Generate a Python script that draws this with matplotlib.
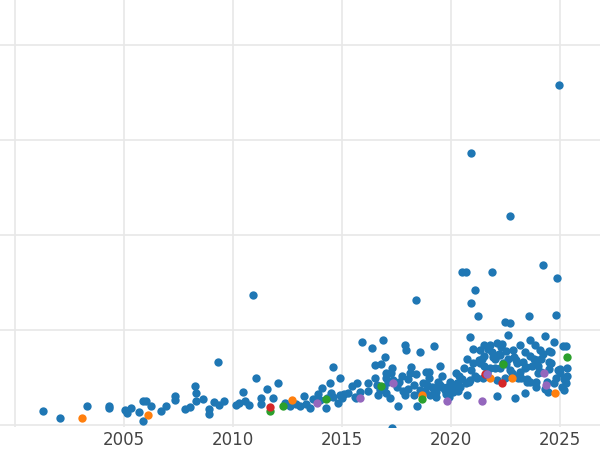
import matplotlib
matplotlib.use("Agg")
import matplotlib.pyplot as plt

blue_x = [2001.28,2002.06,2003.30,2004.31,2004.31,2005.05,2005.14,2005.32,2005.69,2005.87,2006.01,2006.24,2005.87,
 2006.70,2006.93,2007.34,2007.34,2007.80,2008.03,2008.26,2008.30,2008.30,2008.62,2008.90,2008.90,2009.13,2009.31,2009.36,2009.59,
 2010.14,2010.28,2010.46,2010.55,2010.73,2010.92,2011.06,2011.28,2011.28,2011.56,2011.83,2012.06,2012.39,2012.61,2012.89,2013.26,
 2013.35,2013.53,2013.67,2013.90,2014.08,2014.27,2014.31,2014.45,2014.50,2014.59,2014.82,2014.91,2015.09,2015.28,2015.46,2015.64,
 2015.69,2015.92,2016.19,2016.38,2016.51,2016.65,2016.79,2016.88,2016.97,2017.02,2017.11,2017.25,2017.34,2017.57,2017.75,2017.89,
 2017.94,2018.03,2018.17,2018.30,2018.39,2018.44,2018.58,2018.72,2018.85,2018.99,2019.13,2019.22,2019.31,2019.50,2019.59,2019.77,
 2019.95,2020.09,2020.28,2020.37,2020.50,2020.69,2020.73,2020.73,2020.87,2020.92,2020.92,2021.10,2021.24,2021.33,2021.51,2021.65,
 2021.88,2021.88,2022.02,2022.11,2022.25,2022.34,2022.48,2022.61,2022.71,2022.71,2022.84,2022.94,2022.98,2023.17,2023.39,2023.44,
 2023.58,2023.62,2023.85,2023.94,2024.13,2024.22,2024.31,2024.50,2024.59,2024.72,2024.82,2024.86,2024.95,2025.00,2025.14,2025.28,
 2025.32,2025.28,2025.18,2025.23,2024.45,2023.90,2023.39,2023.07,2022.48,2022.11,2021.47,2020.87,2020.32,2019.72,2019.04,2018.58,
 2017.89,2017.20,2016.74,2015.83,2014.91,2013.99,2013.07,2017.29,2023.62,2024.08,2023.17,2022.25,2021.79,2021.33,
 2016.5,2016.9,2017.3,2017.6,2018.1,2018.6,2019.0,2019.4,2019.8,2020.2,2020.6,2021.0,2021.4,2021.8,2022.2,2022.6,2023.0,2023.4,
 2023.8,2024.2,2024.6,2025.0,2020.0,2020.4,2020.8,2021.2,2021.6,2022.0,2022.4,2022.8,2023.2,2023.6,2024.0,2024.4,2024.8,2025.2,
 2019.6,2019.2,2018.8,2018.3,2017.8,2017.0,2016.2,2015.6,2015.0,2014.6,
 2019.3,2019.7,2020.1,2020.5,2020.9,2021.3,2021.7,2022.1,2022.5,2022.9,2023.3,2023.7,2024.1,2024.5,2024.9,2025.3,
 2019.5,2019.9,2020.3,2020.7,2021.1,2021.5,2021.9,2022.3,2022.7,2023.1,2023.5,2023.9,2024.3,2024.7,2025.1,
 2021.0,2021.5,2022.0,2022.5,2023.0,2023.5,2024.0,2024.5,2018.0,2018.4,2018.9,2017.5,2017.0,2016.6]
blue_y = [0.15,0.07,0.20,0.18,0.20,0.16,0.13,0.18,0.14,0.25,0.25,0.20,0.04,
 0.15,0.20,0.26,0.31,0.17,0.19,0.41,0.34,0.25,0.27,0.17,0.12,0.24,0.66,0.21,0.25,
 0.21,0.23,0.35,0.25,0.21,1.37,0.49,0.29,0.22,0.38,0.28,0.44,0.23,0.20,0.22,0.31,
 0.22,0.18,0.27,0.33,0.39,0.18,0.28,0.44,0.34,0.61,0.23,0.49,0.33,0.34,0.41,0.28,
 0.44,0.87,0.44,0.81,0.63,0.32,0.64,0.89,0.72,0.55,0.45,0.55,0.47,0.20,0.52,0.84,
 0.79,0.38,0.61,0.32,1.32,0.20,0.77,0.44,0.56,0.56,0.40,0.83,0.35,0.62,0.52,0.33,
 0.45,0.35,0.44,0.52,1.61,1.61,0.32,0.69,0.93,1.28,2.86,1.42,1.15,0.65,0.73,0.55,
 0.77,1.61,0.71,0.31,0.60,0.85,1.08,0.95,1.07,2.20,0.79,0.29,0.68,0.56,0.77,0.61,
 1.15,0.73,0.84,0.68,0.56,1.68,0.94,0.59,0.77,0.87,1.16,1.55,3.58,0.59,0.83,0.83,
 0.60,0.44,0.37,0.47,0.35,0.45,0.34,0.49,0.49,0.47,0.49,0.47,0.42,0.37,0.32,0.37,
 0.32,0.29,0.37,0.35,0.32,0.26,0.20,-0.03,0.89,0.79,0.84,0.74,0.84,0.79,
 0.50,0.40,0.60,0.45,0.55,0.35,0.50,0.45,0.40,0.55,0.60,0.65,0.70,0.60,0.75,0.70,0.65,0.60,
 0.70,0.75,0.65,0.55,0.35,0.40,0.45,0.50,0.55,0.60,0.65,0.55,0.50,0.45,0.55,0.45,0.50,0.48,
 0.40,0.38,0.36,0.42,0.36,0.34,0.36,0.30,0.28,0.30,
 0.30,0.38,0.40,0.48,0.58,0.68,0.80,0.86,0.78,0.72,0.66,0.62,0.70,0.66,0.58,0.52,
 0.42,0.30,0.36,0.44,0.52,0.62,0.72,0.82,0.58,0.52,0.48,0.40,0.38,0.44,0.40,
 0.80,0.84,0.70,0.64,0.52,0.45,0.62,0.78,0.48,0.54,0.42,0.40,0.50,0.42]

orange_x = [2003.07,2006.10,2012.71,2018.67,2021.79,2022.80,2024.77]
orange_y = [0.07,0.11,0.26,0.32,0.49,0.49,0.34]
green_x = [2011.70,2012.29,2014.27,2016.79,2018.67,2022.39,2025.32]
green_y = [0.15,0.20,0.27,0.41,0.27,0.64,0.72]
red_x = [2011.70,2021.56,2022.34]
red_y = [0.19,0.54,0.44]
purple_x = [2013.85,2015.83,2017.34,2019.82,2021.42,2021.65,2024.27,2024.36]
purple_y = [0.23,0.28,0.44,0.25,0.25,0.54,0.55,0.42]

fig = plt.figure(figsize=(6, 4.5), dpi=100)
ax = fig.add_axes([0, 23/450, 1, 427/450])
s = 36
ax.scatter(blue_x, blue_y, s=s, color="#1f77b4", linewidths=0, zorder=3)
for xs, ys, c in [(orange_x, orange_y, "#ff7f0e"), (green_x, green_y, "#2ca02c"),
                  (red_x, red_y, "#d62728"), (purple_x, purple_y, "#9467bd")]:
    ax.scatter(xs, ys, s=s, color=c, linewidths=0, zorder=4)

ax.set_xlim(1999.3, 2026.83)
ax.set_ylim(-0.02, 4.47)
ax.set_xticks([2000, 2005, 2010, 2015, 2020, 2025])
ax.set_xticklabels(["", "2005", "2010", "2015", "2020", "2025"])
ax.set_yticks([0, 1, 2, 3, 4])
ax.set_yticklabels([])
ax.grid(True, color="#e8e8e8", linewidth=1.2, zorder=0)
for sp in ax.spines.values():
    sp.set_visible(False)
ax.tick_params(length=0, labelsize=12, labelcolor="#444444", pad=3)
fig.savefig("out.png", dpi=100)
